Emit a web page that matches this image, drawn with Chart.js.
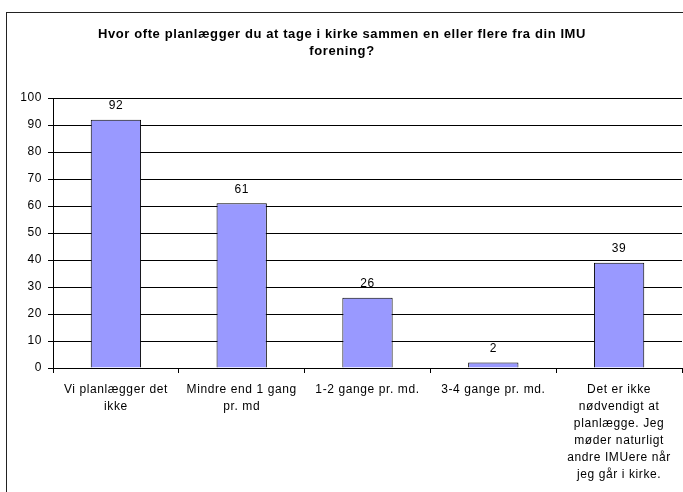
<!DOCTYPE html>
<html>
<head>
<meta charset="utf-8">
<script src="https://cdn.jsdelivr.net/npm/chart.js@4/dist/chart.umd.min.js"></script>
<style>
  html, body { margin: 0; padding: 0; background: #fff; overflow: hidden; }
  #wrap { position: relative; width: 683px; height: 492px; }
  #frame { position: absolute; left: 6px; top: 12px; width: 800px; height: 600px; border: 1px solid #222; box-sizing: border-box; }
  #c { position: absolute; left: 0; top: 0; }
</style>
</head>
<body>
<div id="wrap">
  <div id="frame"></div>
  <canvas id="c" width="683" height="492"></canvas>
</div>
<script>
const titleLines = ["Hvor ofte planlægger du at tage i kirke sammen en eller flere fra din IMU", "forening?"];
const categories = [
  ["Vi planlægger det", "ikke"],
  ["Mindre end 1 gang", "pr. md"],
  "1-2 gange pr. md.",
  "3-4 gange pr. md.",
  ["Det er ikke", "nødvendigt at", "planlægge. Jeg", "møder naturligt", "andre IMUere når", "jeg går i kirke."]
];
const values = [92, 61, 26, 2, 39];
const yMin = 0, yMax = 100, yStep = 10;

const FONT = "'Liberation Sans', Arial, sans-serif";
const SPACING = '0.6px';

const spacingPlugin = {
  id: 'spacing',
  beforeLayout(chart) { chart.ctx.letterSpacing = SPACING; },
  beforeDraw(chart) { chart.ctx.letterSpacing = SPACING; }
};

const valueLabels = {
  id: 'valueLabels',
  afterDatasetsDraw(chart) {
    const ctx = chart.ctx;
    const meta = chart.getDatasetMeta(0);
    ctx.save();
    ctx.letterSpacing = SPACING;
    ctx.font = "12px " + FONT;
    ctx.fillStyle = "#000";
    ctx.textAlign = "center";
    ctx.textBaseline = "middle";
    meta.data.forEach((el, i) => {
      ctx.fillText(String(values[i]), el.x, el.y - 14);
    });
    ctx.restore();
  }
};

new Chart(document.getElementById('c'), {
  type: 'bar',
  data: {
    labels: categories,
    datasets: [{
      data: values,
      backgroundColor: '#9999FF',
      borderColor: '#000',
      borderWidth: 1,
      barPercentage: 0.4,
      categoryPercentage: 1
    }]
  },
  options: {
    responsive: false,
    devicePixelRatio: 1,
    animation: false,
    layout: { padding: { left: 2, right: 1, top: 0, bottom: 0 } },
    plugins: {
      legend: { display: false },
      tooltip: { enabled: false },
      title: {
        display: true,
        text: titleLines,
        color: '#000',
        font: { family: FONT, size: 13, weight: 'bold', lineHeight: 1.31 },
        padding: { top: 25.5, bottom: 38.5 }
      }
    },
    scales: {
      x: {
        grid: { offset: true, drawOnChartArea: false, drawTicks: true, tickLength: 5, color: '#000' },
        border: { color: '#000', width: 1 },
        ticks: { color: '#000', font: { family: FONT, size: 12, lineHeight: 1.42 }, padding: 8, maxRotation: 0, autoSkip: false },
        afterFit(scale) { scale.height = 124; }
      },
      y: {
        min: yMin, max: yMax,
        grid: { color: '#000', tickLength: 5 },
        border: { color: '#000', width: 1 },
        ticks: { stepSize: yStep, color: '#000', font: { family: FONT, size: 12 }, padding: 6 },
        afterFit(scale) { scale.width = 51; }
      }
    }
  },
  plugins: [spacingPlugin, valueLabels]
});
</script>
</body>
</html>
